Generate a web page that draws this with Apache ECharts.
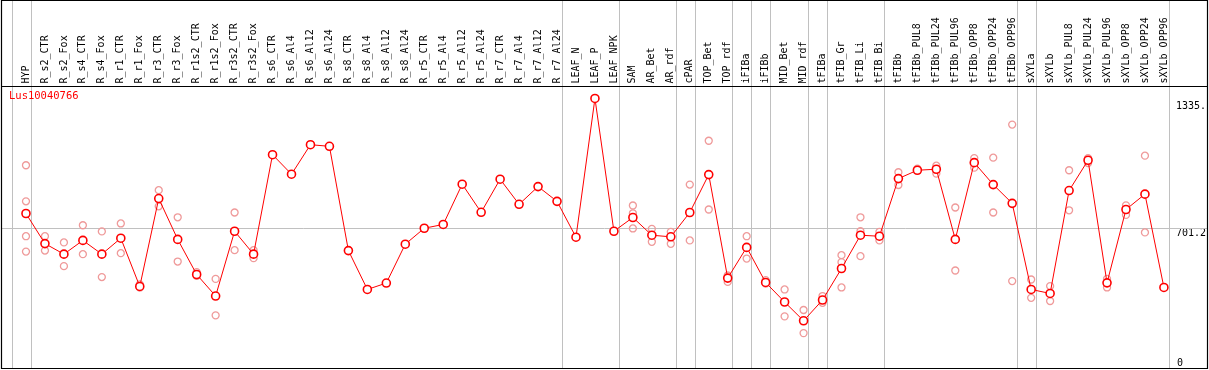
<!DOCTYPE html>
<html>
<head>
<meta charset="utf-8">
<script src="https://cdn.jsdelivr.net/npm/echarts@6/dist/echarts.min.js"></script>
<style>
html,body{margin:0;padding:0;background:#fff;}
#chart{width:1209px;height:370px;}
</style>
</head>
<body>
<div id="chart"></div>
<script>
var title = 'Lus10040766';
var categories = ['HYP','R_s2_CTR','R_s2_Fox','R_s4_CTR','R_s4_Fox','R_r1_CTR','R_r1_Fox','R_r3_CTR','R_r3_Fox','R_r1s2_CTR','R_r1s2_Fox','R_r3s2_CTR','R_r3s2_Fox','R_s6_CTR','R_s6_Al4','R_s6_Al12','R_s6_Al24','R_s8_CTR','R_s8_Al4','R_s8_Al12','R_s8_Al24','R_r5_CTR','R_r5_Al4','R_r5_Al12','R_r5_Al24','R_r7_CTR','R_r7_Al4','R_r7_Al12','R_r7_Al24','LEAF_N','LEAF_P','LEAF_NPK','SAM','AR_Bet','AR_rdf','cPAR','TOP_Bet','TOP_rdf','iFIBa','iFIBb','MID_Bet','MID_rdf','tFIBa','tFIB_Gr','tFIB_Li','tFIB_Bi','tFIBb','tFIBb_PUL8','tFIBb_PUL24','tFIBb_PUL96','tFIBb_OPP8','tFIBb_OPP24','tFIBb_OPP96','sXYLa','sXYLb','sXYLb_PUL8','sXYLb_PUL24','sXYLb_PUL96','sXYLb_OPP8','sXYLb_OPP24','sXYLb_OPP96'];
var meanValues = [775,624,571,640,571,651,409,850,645,469,361,686,571,1070,972,1120,1112,589,394,426,621,701,720,922,781,947,821,910,836,656,1352,686,755,666,658,780,970,451,605,429,331,237,341,499,666,661,950,992,997,645,1030,920,826,394,374,890,1042,427,795,872,404];
var replicateValues = [[1017,836,661,584],[661,589],[630,511],[716,571],[685,456],[725,576],[419,404],[892,811],[756,534],[481,462],[447,264],[780,591],[591,551],[],[],[],[],[],[],[],[],[],[],[],[],[],[],[],[],[],[],[],[815,776,700],[698,633],[683,623],[920,640],[1140,795],[464,432],[661,549],[441,424],[394,259],[291,175],[361,327],[566,531,404],[756,686,561],[683,640],[982,918],[1000],[1015,975],[805,489],[1053,1005],[1055,780],[1221,436],[444,352],[411,336],[992,791],[1053,1028],[447,404],[816,768],[1065,680],[]];
// group separators: placed just after these category indices
var separatorsAfter = [-1,0,28,31,34,35,37,38,39,41,42,45,52,53,60];
var tickValues = [0, 701.2, 1335];
var tickLabels = ['0', '701.2', '1335.'];
var refLineValue = 701.2;

var repData = [];
replicateValues.forEach(function(arr, i){ arr.forEach(function(v){ repData.push([i, v]); }); });
var sepData = separatorsAfter.map(function(s){ return [0, s]; });

var FONT = '"DejaVu Sans Mono", monospace';
var chart = echarts.init(document.getElementById('chart'), null, {renderer:'canvas'});
function fmt(v){ var k = tickValues.indexOf(v); return k >= 0 ? tickLabels[k] : ''; }
chart.setOption({
  animation: false,
  backgroundColor: '#fff',
  title: {text: title, left: 9, top: 91, padding: 0,
    textStyle: {color: '#ff0000', fontSize: 10.5, fontFamily: FONT, fontWeight: 'normal'}},
  grid: {left: 16.5, width: 1159, top: 86.5, bottom: 2},
  xAxis: {type: 'category', data: categories, position: 'top', boundaryGap: true,
    axisLine: {show: false}, axisTick: {show: false}, splitLine: {show: false},
    axisLabel: {interval: 0, rotate: 90, margin: 3, color: '#000', fontSize: 10, fontFamily: FONT}},
  yAxis: [
    {type: 'value', min: 0, max: 1412, position: 'right', splitLine: {show: false},
      axisLine: {show: false}, axisTick: {show: false},
      axisLabel: {customValues: [tickValues[1], tickValues[2]], formatter: fmt, margin: 2.5,
        verticalAlign: 'top', align: 'left', color: '#000', fontSize: 10, fontFamily: FONT}},
    {type: 'value', min: 0, max: 1412, position: 'right', splitLine: {show: false},
      axisLine: {show: false}, axisTick: {show: false},
      axisLabel: {customValues: [tickValues[0]], formatter: fmt, margin: 3.5,
        verticalAlign: 'bottom', align: 'left', color: '#000', fontSize: 10, fontFamily: FONT}}
  ],
  series: [
    {type: 'custom', silent: true, z: 1, data: sepData, clip: false,
      renderItem: function(params, api){
        var base = api.coord([0, 0]);
        var band = api.size([1, 0])[0];
        var x = Math.round(base[0] + (api.value(1) + 0.25) * band) + 0.5;
        return {type: 'line', shape: {x1: x, y1: 0, x2: x, y2: base[1]},
          style: {stroke: '#c0c0c0', lineWidth: 1}};
      }},
    {type: 'custom', silent: true, z: 1, data: [[0, refLineValue]], clip: false,
      renderItem: function(params, api){
        var p = api.coord([0, api.value(1)]);
        var y = Math.round(p[1]) + 0.5;
        return {type: 'line', shape: {x1: 2, y1: y, x2: 1207, y2: y},
          style: {stroke: '#c0c0c0', lineWidth: 1}};
      }},
    {type: 'scatter', z: 3, data: repData, symbol: 'circle', symbolSize: 7,
      itemStyle: {color: 'rgba(255,255,255,0)', borderColor: '#ef9a9a', borderWidth: 1.3, opacity: 1}},
    {type: 'line', z: 4, data: meanValues, symbol: 'circle', symbolSize: 8, showAllSymbol: true,
      lineStyle: {color: '#ff0000', width: 1},
      itemStyle: {color: '#ffffff', borderColor: '#ff0000', borderWidth: 1.6}}
  ],
  graphic: [
    {type: 'rect', silent: true, z: 100, shape: {x: 1.5, y: 0.5, width: 1206, height: 368},
      style: {fill: null, stroke: '#000', lineWidth: 1.2}},
    {type: 'line', silent: true, z: 100, shape: {x1: 1.5, y1: 86.5, x2: 1207.5, y2: 86.5},
      style: {stroke: '#000', lineWidth: 1.2}}
  ]
});
</script>
</body>
</html>
